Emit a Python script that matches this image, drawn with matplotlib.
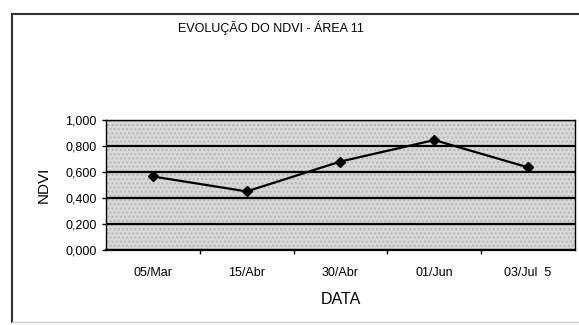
import matplotlib.pyplot as plt
from matplotlib.lines import Line2D

datas = ['05/Mar', '15/Abr', '30/Abr', '01/Jun', '03/Jul  5']
ndvi = [0.565, 0.450, 0.680, 0.845, 0.635]
y_ticks = [0.0, 0.2, 0.4, 0.6, 0.8, 1.0]

plt.rcParams['font.family'] = ['Liberation Sans', 'DejaVu Sans']

fig = plt.figure(figsize=(5.79, 3.25), dpi=100)
ax = fig.add_axes([0.183, 0.231, 0.810, 0.400])

# fundo cinza pontilhado (como no original escaneado)
ax.set_facecolor('#d8d8d8')
ax.patch.set_hatch('....')
ax.patch.set_edgecolor('#b5b5b5')
ax.patch.set_linewidth(0)

x = list(range(len(datas)))
ax.plot(x, ndvi, color='black', linewidth=1.6, marker='D', markersize=5, zorder=3)

ax.set_xlim(-0.5, len(datas) - 0.5)
ax.set_ylim(0, 1.0)
ax.set_yticks(y_ticks)
ax.set_yticklabels([f'{v:.3f}'.replace('.', ',') for v in y_ticks], fontsize=9)
ax.set_xticks(x)
ax.set_xticklabels(datas, fontsize=9)
ax.set_xticks([i + 0.5 for i in range(len(datas) - 1)], minor=True)
ax.tick_params(axis='x', which='major', length=0, pad=12)
ax.tick_params(axis='x', which='minor', length=3, width=1, direction='out')
ax.tick_params(axis='y', length=3, width=1, pad=3.5)

ax.grid(axis='y', color='black', linewidth=1.6)
ax.set_axisbelow(False)
for s in ax.spines.values():
    s.set_linewidth(1.0)
ax.spines['bottom'].set_linewidth(1.6)

ax.set_ylabel('NDVI', fontsize=11, labelpad=11)
ax.set_xlabel('DATA', fontsize=11.5, labelpad=10)

fig.text(0.468, 0.915, 'EVOLUÇÃO DO NDVI - ÁREA 11', fontsize=9, ha='center', va='center')

# moldura externa do gráfico
fig.add_artist(Line2D([0.021, 0.021], [0.957, 0.01], color='#333333', linewidth=1.5))
fig.add_artist(Line2D([0.021, 1.0], [0.957, 0.957], color='#333333', linewidth=1.5))
fig.add_artist(Line2D([0.021, 1.0], [0.01, 0.01], color='#cccccc', linewidth=1.0))

fig.savefig('out.png', dpi=100)
